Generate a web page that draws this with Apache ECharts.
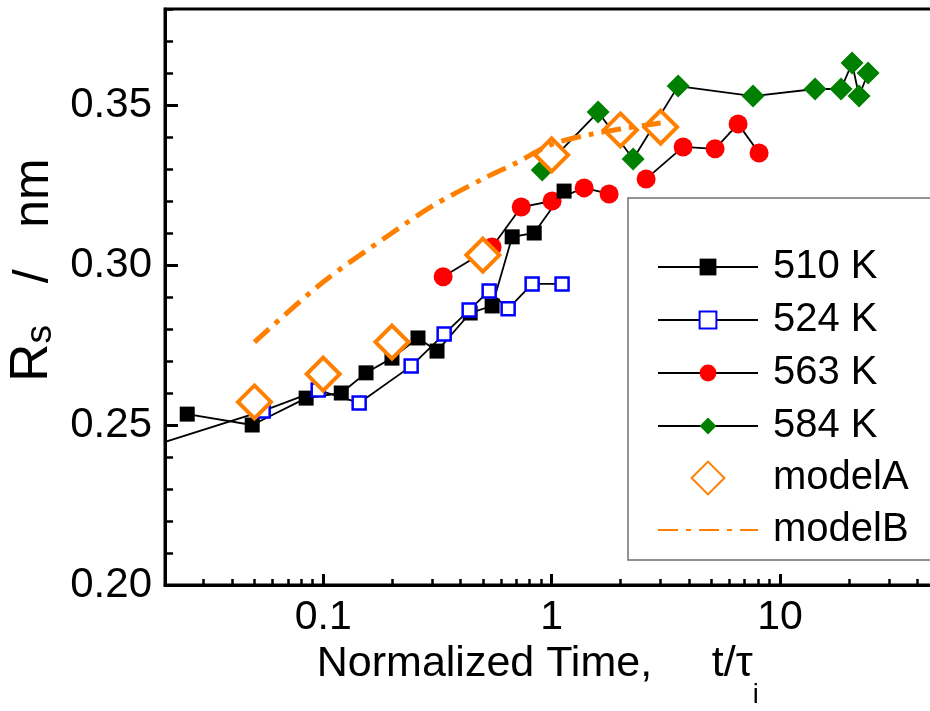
<!DOCTYPE html>
<html><head><meta charset="utf-8">
<script src="https://cdn.jsdelivr.net/npm/echarts@6/dist/echarts.min.js"></script>
<style>html,body{margin:0;padding:0;background:#fff}#c{width:930px;height:711px}</style>
</head><body><div id="c"></div>
<script>
// ---- data ----
const x510 = [0.0254,0.0489,0.0842,0.120,0.154,0.200,0.260,0.315,0.440,0.549,0.672,0.839,1.134];
const y510 = [0.2534,0.2500,0.2584,0.2600,0.2663,0.2709,0.2772,0.2731,0.2850,0.2872,0.3088,0.3100,0.3231];
const x524 = [0.010,0.0546,0.0951,0.1437,0.2427,0.3385,0.4355,0.5327,0.6451,0.8217,1.111];
const y524 = [0.2378,0.2544,0.2609,0.2569,0.2684,0.2784,0.2859,0.2919,0.2863,0.2941,0.2941];
const x563a = [0.335,0.549,0.736,1.005,1.388,1.785];
const y563a = [0.2963,0.3056,0.3181,0.3200,0.3241,0.3222];
const x563b = [2.592,3.763,5.195,6.550,8.093];
const y563b = [0.3269,0.3369,0.3363,0.3441,0.3350];
const x584 = [0.909,1.598,2.274,3.578,7.617,14.23,18.49,20.66,22.17,24.28];
const y584 = [0.3297,0.3478,0.3331,0.3559,0.3528,0.3550,0.3550,0.3631,0.3528,0.3600];
const xModelA = [0.05,0.1,0.2,0.5,1,2,3];
const yModelA = [0.2572,0.2659,0.2759,0.3031,0.3344,0.3422,0.3431];
const xModelB = [0.05,0.1,0.2,0.3,0.5,0.7,1,1.5,2,3];
const yModelB = [0.2759,0.2947,0.3100,0.3184,0.3269,0.3319,0.3377,0.3409,0.3425,0.3444];
// ---- ticks ----
const xLabelValues = [0.1,1,10];
const xMajorTicks = [0.1,1,10,100];
const xMinorTicks = [0.03,0.04,0.05,0.06,0.07,0.08,0.09,0.2,0.3,0.4,0.5,0.6,0.7,0.8,0.9,2,3,4,5,6,7,8,9,20,30,40,50,60,70,80,90];
const yLabelValues = [0.20,0.25,0.30,0.35];
const yMinorTicks = [0.21,0.22,0.23,0.24,0.26,0.27,0.28,0.29,0.31,0.32,0.33,0.34,0.36,0.37,0.38];

const zip = (xs, ys) => xs.map((v, i) => [v, ys[i]]);
const FONT = '"Liberation Sans", Arial, sans-serif';
const ORANGE = '#ff8000';
const blackLine = { color:'#000', width:1.8 };

const chart = echarts.init(document.getElementById('c'));
chart.setOption({
  animation: false,
  backgroundColor: '#fff',
  grid: { left:165, top:9, right:-78.5, bottom:126, outerBoundsMode:'none', containLabel:false,
          show:true, borderColor:'#000', borderWidth:3, backgroundColor:'transparent' },
  xAxis: [{
    type:'log', logBase:10, min:0.0203, max:100,
    axisLine:{ lineStyle:{ color:'#000', width:3 } },
    axisTick:{ inside:true, length:11, customValues:xMajorTicks, lineStyle:{ color:'#000', width:3 } },
    axisLabel:{ customValues:xLabelValues, color:'#000', fontSize:41, fontFamily:FONT, margin:12,
      formatter: v => String(+(+v).toPrecision(6)) },
    splitLine:{ show:false }, minorTick:{ show:false },
    name:'{a|Normalized Time,     t/τ}{b|i}', nameLocation:'middle', nameGap:57,
    nameTextStyle:{ padding:[0,98,0,0], rich:{
      a:{ fontSize:43, fontFamily:FONT, color:'#000', lineHeight:46, verticalAlign:'top' },
      b:{ fontSize:27, fontFamily:FONT, color:'#000', lineHeight:66, verticalAlign:'bottom' } } }
  },{
    type:'log', logBase:10, min:0.0203, max:100, position:'bottom',
    axisLine:{ show:false },
    axisTick:{ inside:true, length:6, customValues:xMinorTicks, lineStyle:{ color:'#000', width:2.5 } },
    axisLabel:{ show:false }, splitLine:{ show:false }
  }],
  yAxis: [{
    type:'value', min:0.2, max:0.38,
    axisLine:{ show:true, lineStyle:{ color:'#000', width:3 } },
    axisTick:{ inside:true, length:13, customValues:yLabelValues, lineStyle:{ color:'#000', width:3 } },
    axisLabel:{ customValues:yLabelValues, color:'#000', fontSize:42, fontFamily:FONT, margin:13,
      formatter: v => (+v).toFixed(2) },
    splitLine:{ show:false },
    name:'{R|R}{s|s}{n|   /   nm}', nameLocation:'middle', nameGap:103, nameRotate:90,
    nameTextStyle:{ padding:[0,0,0,54], rich:{
      R:{ fontSize:53, fontFamily:FONT, color:'#000', lineHeight:54, verticalAlign:'bottom' },
      s:{ fontSize:37, fontFamily:FONT, color:'#000', lineHeight:41, verticalAlign:'bottom' },
      n:{ fontSize:50, fontFamily:FONT, color:'#000', lineHeight:54, verticalAlign:'bottom' } } }
  },{
    type:'value', min:0.2, max:0.38, position:'left',
    axisLine:{ show:false },
    axisTick:{ inside:true, length:8, customValues:yMinorTicks, lineStyle:{ color:'#000', width:2.5 } },
    axisLabel:{ show:false }, splitLine:{ show:false }
  }],
  legend: [{
    data:['510 K','524 K','563 K','584 K'],
    orient:'vertical', left:628, top:198, padding:[49,300,114,29],
    itemWidth:100, itemHeight:21, itemGap:13,
    borderColor:'#707070', borderWidth:1.5, backgroundColor:'#fff',
    selectedMode:false,
    textStyle:{ fontSize:40, lineHeight:40, color:'#000', fontFamily:FONT, padding:[0,0,0,10] }
  },{
    data:[{ name:'modelA' }, { name:'modelB', itemStyle:{ opacity:0 } }],
    orient:'vertical', left:657, top:458, padding:0, z:6,
    itemWidth:100, itemHeight:41, itemGap:12,
    selectedMode:false,
    textStyle:{ fontSize:40, lineHeight:40, color:'#000', fontFamily:FONT, padding:[0,0,0,10] }
  }],
  series: [
    { name:'563 K', type:'line', data:zip(x563a,y563a), symbol:'circle', symbolSize:19,
      itemStyle:{ color:'#ff0000' }, lineStyle:blackLine },
    { name:'563 K', type:'line', data:zip(x563b,y563b), symbol:'circle', symbolSize:19,
      itemStyle:{ color:'#ff0000' }, lineStyle:blackLine },
    { name:'510 K', type:'line', data:zip(x510,y510), symbol:'rect', symbolSize:15,
      itemStyle:{ color:'#000' }, lineStyle:blackLine },
    { name:'524 K', type:'line', data:zip(x524,y524), symbol:'rect', symbolSize:13,
      itemStyle:{ color:'#fff', borderColor:'#0000ff', borderWidth:2.5 }, lineStyle:blackLine },
    { name:'584 K', type:'line', data:zip(x584,y584), symbol:'diamond', symbolSize:23,
      itemStyle:{ color:'#008000' }, lineStyle:blackLine },
    { name:'modelA', type:'line', data:zip(xModelA,yModelA), symbol:'diamond', symbolSize:33,
      itemStyle:{ color:'#fff', borderColor:ORANGE, borderWidth:4, opacity:1 },
      lineStyle:{ width:0, opacity:0 } },
    { name:'modelB', type:'line', z:5, data:zip(xModelB,yModelB), symbol:'none', smooth:0.3,
      itemStyle:{ color:ORANGE },
      lineStyle:{ color:ORANGE, width:5, type:[20,8,5,8] } }
  ]
});
</script></body></html>
